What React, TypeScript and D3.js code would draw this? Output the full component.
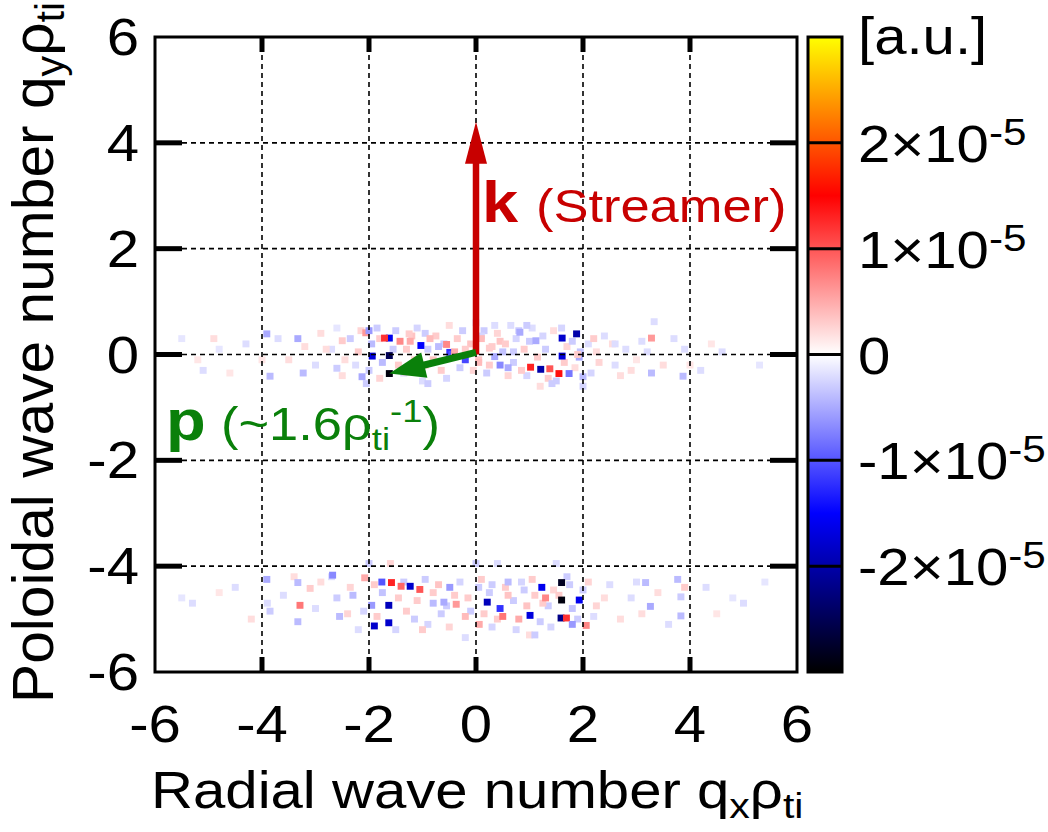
import React from "react";
import * as d3 from "d3";

// ---- data (values in units of 1e-5, positions in q rho_ti units) ----
const xTicks = [-6, -4, -2, 0, 2, 4, 6];
const yTicks = [-6, -4, -2, 0, 2, 4, 6];
const cbTicks = [-2, -1, 0, 1, 2];
const cbLabels = ["-2×10", "-1×10", "0", "1×10", "2×10"];

// upper band (around qy = 0): strong cells
const upperQx = [-1.62, -1.94, -1.62, -1.62, -1.71, -1.03, -1.42, -1.23, -0.86, -0.2, -0.49, -0.45, -0.55, -0.4, -2.13, -1.32, -2.06, -2.0, -1.25, -0.95, -0.7,
  1.61, 1.88, 1.61, 1.02, 1.21, 1.38, 1.55, 1.74, 0.82, 1.12, 0.45, 0.6, 0.35, 0.1, 0.55, 1.93, 2.0, 1.42, 0.25, 0.05, 0.7, 1.9, 2.2,
  3.28, 3.28, 3.87, 3.33, -3.91, -3.33, -3.85, -3.23, -2.6, -2.5, -4.9, -5.1, 2.6, 2.9, 4.6, -0.9, 0.95, -2.8];
const upperQy = [-0.02, -0.03, -0.36, 0.31, 0.31, 0.17, 0.25, 0.25, 0.3, -0.1, 0.04, 0.0, 0.19, 0.05, -0.42, -0.33, 0.41, 0.45, 0.39, -0.2, 0.15,
  0.31, 0.39, -0.03, -0.24, -0.28, -0.27, -0.36, -0.36, 0.42, 0.26, -0.2, -0.25, -0.04, 0.3, 0.2, -0.05, -0.42, -0.55, 0.12, -0.15, 0.05, 0.0, 0.3,
  0.31, -0.35, -0.41, 0.62, 0.39, 0.3, -0.41, -0.35, -0.26, 0.26, 0.3, -0.3, 0.2, -0.3, 0.05, -0.55, 0.55, 0.1];
const upperVal = [-2.5, -1.7, -2.9, -1.6, 1.2, -1.5, 0.7, 0.5, 0.4, -1.1, -1.2, -1.0, 0.7, 0.5, -0.5, 0.3, 0.6, -0.6, 0.3, 0.4, -0.4,
  -1.8, -2.0, -1.7, 1.3, -2.0, 1.0, 1.4, -0.8, -0.5, -0.5, -0.7, -0.5, -0.5, 0.4, 0.3, -0.5, -0.4, -0.3, 0.3, 0.4, -0.3, 0.3, 0.3,
  0.6, -0.4, -0.4, -0.2, -0.5, -0.5, -0.4, -0.4, -0.3, 0.3, 0.2, -0.2, -0.2, 0.2, -0.2, -0.3, -0.3, 0.2];

// upper band: faint cells
const faintUpperQx = [-2.9, -2.7, -2.5, -2.35, -2.2, -2.25, -1.85, -1.5, -1.3, -1.15, -1.1, -0.9, -0.75, -0.65, -0.35, -0.3, -0.1, -0.05, 0.15, 0.2,
  0.3, 0.4, 0.5, 0.7, 0.75, 0.9, 0.95, 1.05, 1.3, 1.45, 1.5, 1.7, 1.85, 2.1, 2.3, 2.4, 2.7, 2.8, 3.1, 3.5, 3.7, 4.2, 4.4, -3.5, -4.3, -4.6, -5.5, 5.3,
  -1.75, -1.45, -1.95, -2.05, 1.95, 2.0, 0.0, -0.5, 0.65, -1.0, 1.2,
  -2.6, -2.45, -2.15, -2.0, -1.8, -1.8, -1.55, -1.35, -1.2, -1.05, -0.95, -0.8, -0.6, -0.55, -0.25, -0.2, 0.05, 0.1, 0.25, 0.35, 0.45, 0.6,
  0.8, 0.85, 1.0, 1.15, 1.25, 1.35, 1.6, 1.65, 1.8, 2.15, 2.25, 2.55, 2.6, 3.0, 3.2, 3.9, 4.0, -3.0, -3.2, -3.7, -4.0, -4.8, -5.2];
const faintUpperQy = [0.4, 0.1, -0.4, 0.3, 0.05, -0.2, 0.5, 0.45, 0.1, -0.1, 0.5, 0.1, 0.35, -0.3, 0.3, -0.25, 0.2, -0.3, 0.45, -0.35,
  0.15, 0.4, 0.05, -0.15, 0.3, 0.1, -0.4, 0.5, 0.1, 0.45, -0.5, 0.15, -0.25, 0.2, -0.15, 0.35, -0.4, 0.1, 0.25, -0.2, 0.3, -0.3, 0.2, -0.1, 0.2, -0.35, 0.3, -0.2,
  -0.15, -0.2, 0.2, -0.55, 0.05, -0.6, 0.6, 0.55, 0.55, -0.5, -0.6,
  0.5, -0.1, 0.45, -0.3, 0.3, -0.45, 0.1, -0.35, 0.35, -0.25, 0.4, -0.1, 0.2, -0.45, 0.45, 0.1, -0.1, 0.35, -0.2, 0.55, 0.25, -0.4,
  0.45, -0.3, 0.25, -0.05, 0.35, -0.45, 0.5, -0.15, 0.25, -0.35, 0.05, 0.2, -0.2, -0.1, 0.05, 0.1, -0.2, -0.2, 0.15, 0.3, -0.1, 0.1, -0.1];
const faintUpperVal = [0.2, -0.2, 0.2, -0.3, 0.3, -0.2, -0.3, -0.3, 0.3, 0.25, -0.25, -0.3, 0.3, 0.3, 0.3, -0.3, 0.35, 0.25, -0.3, -0.3,
  0.3, 0.25, -0.35, -0.3, -0.25, 0.3, -0.25, -0.2, -0.3, 0.2, -0.3, 0.25, 0.2, -0.2, 0.25, -0.2, 0.2, -0.2, -0.2, 0.2, -0.2, -0.2, 0.15, 0.2, -0.2, 0.15, -0.15, -0.15,
  -0.4, 0.3, -0.4, -0.3, -0.35, -0.25, -0.2, 0.2, -0.2, -0.2, 0.2,
  -0.15, 0.2, 0.25, -0.3, 0.3, 0.25, -0.3, -0.25, 0.35, 0.3, -0.3, 0.35, -0.3, -0.25, -0.3, 0.3, 0.35, -0.25, 0.3, -0.2, 0.35, 0.25,
  -0.3, 0.3, -0.3, 0.3, -0.25, 0.3, -0.25, 0.3, -0.3, -0.25, 0.2, 0.2, -0.2, 0.15, -0.2, -0.2, 0.15, -0.2, 0.2, -0.2, 0.15, -0.15, 0.15];

// lower band (around qy = -4.5): strong cells
const lowerQx = [-1.76, -1.58, -1.4, -1.23, -1.05, -1.63, -1.95, -1.63, -1.9, -2.08, -2.3, -0.49, -0.6, -0.8, -0.37, -0.2, 0.06, 0.21, 0.45, 0.5, 0.8, 1.01, 1.23, 1.6, 1.6,
  1.93, 1.59, 1.69, 1.8, 2.06, 1.3, 0.6, 0.3, -3.91, -3.33, -2.68, -3.29, -3.33, -2.55, -3.1, -3.85, 3.17, 3.77, 3.83, 3.26, 3.83, 3.9, 5.0, -5.3, -1.0, 1.1, 0.0];
const lowerQy = [-4.3, -4.31, -4.38, -4.38, -4.44, -4.74, -4.74, -5.07, -5.13, -4.22, -4.55, -4.4, -4.68, -4.7, -4.72, -4.95, -5.1, -4.68, -4.8, -4.95, -5.0, -4.93, -4.4, -4.31, -4.64,
  -4.64, -4.98, -4.98, -5.1, -5.12, -4.6, -4.3, -4.35, -4.25, -4.31, -4.17, -4.74, -5.05, -4.95, -4.42, -4.85, -4.31, -4.25, -4.58, -4.76, -4.94, -4.4, -4.7, -4.7, -5.2, -5.3, -3.95];
const lowerVal = [-1.0, 1.3, 0.9, -1.8, 1.0, -1.9, -0.6, -1.8, -1.8, 0.5, -0.4, -0.6, -0.5, -0.4, 0.6, 0.4, 0.5, -1.9, -1.2, 0.8, 0.5, -1.7, -1.6, -2.8, -2.9,
  -1.6, -2.2, 1.2, -0.6, 0.7, 0.7, -0.4, -0.3, -0.5, -0.4, -0.7, 0.8, -0.4, -0.4, 0.3, -0.3, -0.4, -0.4, -0.3, -0.5, -0.4, 0.3, -0.2, -0.2, 0.3, -0.3, -0.3];

// lower band: faint cells
const faintLowerQx = [-2.9, -2.6, -2.4, -2.2, -1.75, -1.45, -1.3, -1.15, -0.95, -0.8, -0.65, -0.5, -0.3, -0.15, 0.05, 0.15, 0.3, 0.55, 0.7, 0.85, 0.95, 1.1, 1.2, 1.35,
  1.45, 1.75, 1.8, 2.0, 2.25, 2.5, 2.7, 2.9, 3.4, 3.6, 4.3, 4.5, -3.6, -4.2, -4.5, -5.5, 5.4, -2.0, -1.6, 0.4, 1.5, -0.2, 1.0,
  -2.7, -2.35, -2.1, -1.9, -1.85, -1.5, -1.35, -1.1, -0.9, -0.7, -0.55, -0.4, -0.1, 0.1, 0.25, 0.4, 0.6, 0.75, 0.9, 1.05, 1.25, 1.4, 1.55,
  1.7, 1.9, 2.1, 2.2, 2.4, 3.0, 3.1, -3.0, -3.4, -3.9, -4.8, 4.8];
const faintLowerQy = [-4.3, -4.6, -4.9, -5.2, -4.5, -4.6, -4.85, -5.0, -4.25, -4.5, -4.9, -5.15, -4.3, -4.6, -4.4, -4.9, -5.15, -4.4, -4.65, -4.3, -4.75, -4.55, -5.05, -4.75,
  -4.45, -4.35, -4.8, -4.45, -4.75, -4.35, -5.0, -4.6, -4.5, -5.1, -4.4, -4.9, -4.55, -5.0, -4.4, -4.6, -4.3, -3.95, -3.95, -3.95, -3.95, -5.35, -5.3,
  -4.2, -4.4, -4.85, -4.35, -4.95, -5.2, -4.3, -4.65, -5.1, -4.35, -4.75, -4.55, -4.85, -4.25, -4.5, -5.0, -4.55, -5.2, -4.45, -4.25, -4.7, -5.15, -4.55,
  -4.2, -5.0, -4.3, -4.95, -4.6, -4.3, -4.9, -4.8, -4.2, -4.7, -4.5, -4.6];
const faintLowerVal = [0.2, -0.3, 0.25, -0.2, -0.35, 0.3, 0.3, -0.3, -0.3, 0.3, -0.3, 0.25, -0.25, 0.3, -0.3, 0.3, -0.25, 0.3, -0.3, -0.25, 0.35, 0.3, -0.3, -0.3,
  0.25, -0.3, -0.35, -0.3, 0.25, -0.2, 0.2, -0.2, 0.2, -0.2, -0.2, 0.15, -0.2, 0.2, -0.2, -0.15, -0.15, -0.3, 0.25, -0.2, -0.2, -0.2, 0.2,
  -0.2, 0.25, -0.25, 0.3, 0.3, -0.25, -0.3, 0.3, -0.25, 0.35, -0.3, 0.3, -0.3, 0.3, -0.3, 0.3, 0.35, -0.25, -0.3, 0.3, 0.3, -0.25, 0.3,
  -0.3, -0.3, 0.25, -0.2, 0.2, -0.2, 0.2, -0.2, 0.2, -0.2, 0.15, -0.15];

const CELL = 0.13;

const W = 1048, H = 832;
const FONT = "'Liberation Sans', Arial, sans-serif";
const SX = 1.14; // horizontal stretch of the reference's lettering

function T(props: any) {
  const { x, y, sx = SX, children, ...rest } = props;
  return (
    <text transform={`translate(${x},${y}) scale(${sx},1)`} {...rest}>
      {children}
    </text>
  );
}

export default function App() {
  const x = d3.scaleLinear().domain([-6, 6]).range([155, 797]);
  const y = d3.scaleLinear().domain([-6, 6]).range([672, 37]);
  const cb = d3.scaleLinear().domain([-3, 3]).range([672, 37]);
  const color = d3
    .scaleLinear<string>()
    .domain([-3, -1.5, 0, 1.5, 3])
    .range(["#000000", "#0000ff", "#ffffff", "#ff0000", "#ffff00"])
    .clamp(true);

  const mk = (qx: number[], qy: number[], v: number[]) => qx.map((q, i) => ({ qx: q, qy: qy[i], v: v[i] }));
  const cells = [
    ...mk(faintUpperQx, faintUpperQy, faintUpperVal),
    ...mk(faintLowerQx, faintLowerQy, faintLowerVal),
    ...mk(upperQx, upperQy, upperVal),
    ...mk(lowerQx, lowerQy, lowerVal),
  ];
  const cw = x(CELL) - x(0);
  const ch = y(0) - y(CELL);

  const gradStops = d3.range(0, 61).map((i) => {
    const v = -3 + i * 0.1;
    return { off: (i / 60) * 100, c: color(v) };
  });

  const red = "#c80000";
  const green = "#0a800a";

  const x0 = x(0), y0 = y(0);
  const kTip = y(4.4);
  const pTipX = x(-1.62), pTipY = y(-0.36);
  const pStartX = x(0), pStartY = y(0.04);
  const ang = Math.atan2(pTipY - pStartY, pTipX - pStartX);
  const headL = 36, headW = 13;
  const baseX = pTipX - headL * Math.cos(ang), baseY = pTipY - headL * Math.sin(ang);
  const nx = -Math.sin(ang), ny = Math.cos(ang);

  return (
    <svg width={W} height={H} style={{ display: "block", position: "absolute", left: 0, top: 0, background: "#fff" }} fontFamily={FONT}>
      <defs>
        <linearGradient id="cbg" x1="0" y1="1" x2="0" y2="0">
          {gradStops.map((s, i) => (
            <stop key={i} offset={`${s.off}%`} stopColor={s.c} />
          ))}
        </linearGradient>
        <clipPath id="plotclip">
          <rect x={x(-6)} y={y(6)} width={x(6) - x(-6)} height={y(-6) - y(6)} />
        </clipPath>
        <filter id="soft" x="-5%" y="-5%" width="110%" height="110%">
          <feGaussianBlur stdDeviation="0.7" />
        </filter>
      </defs>
      <rect x={0} y={0} width={W} height={H} fill="#fff" />

      {/* heatmap cells */}
      <g clipPath="url(#plotclip)">
        <g filter="url(#soft)">
          {cells.map((c, i) => (
            <rect key={i} x={x(c.qx) - cw / 2} y={y(c.qy) - ch / 2} width={cw} height={ch} fill={color(c.v)} />
          ))}
        </g>
      </g>

      {/* grid */}
      {xTicks.slice(1, -1).map((t) => (
        <line key={"gx" + t} x1={x(t)} x2={x(t)} y1={y(-6)} y2={y(6)} stroke="#000" strokeWidth={1.6} strokeDasharray="5,4" />
      ))}
      {yTicks.slice(1, -1).map((t) => (
        <line key={"gy" + t} y1={y(t)} y2={y(t)} x1={x(-6)} x2={x(6)} stroke="#000" strokeWidth={1.6} strokeDasharray="5,4" />
      ))}

      {/* ticks */}
      {xTicks.slice(1, -1).map((t) => (
        <g key={"tx" + t}>
          <line x1={x(t)} x2={x(t)} y1={y(-6)} y2={y(-6) - 15} stroke="#000" strokeWidth={5} />
          <line x1={x(t)} x2={x(t)} y1={y(6)} y2={y(6) + 15} stroke="#000" strokeWidth={5} />
        </g>
      ))}
      {yTicks.slice(1, -1).map((t) => (
        <g key={"ty" + t}>
          <line y1={y(t)} y2={y(t)} x1={x(-6)} x2={x(-6) + 27} stroke="#000" strokeWidth={5} />
          <line y1={y(t)} y2={y(t)} x1={x(6)} x2={x(6) - 27} stroke="#000" strokeWidth={5} />
        </g>
      ))}
      <rect x={x(-6)} y={y(6)} width={x(6) - x(-6)} height={y(-6) - y(6)} fill="none" stroke="#000" strokeWidth={3} />

      {/* tick labels */}
      {xTicks.map((t) => (
        <T key={"lx" + t} x={x(t)} y={742} textAnchor="middle" fontSize={51}>
          {t}
        </T>
      ))}
      {yTicks.map((t) => (
        <T key={"ly" + t} x={139} y={y(t) + 18} textAnchor="end" fontSize={51}>
          {t}
        </T>
      ))}

      {/* axis labels */}
      <T x={151} y={808} fontSize={51}>
        Radial wave number q<tspan fontSize={36} dy={10}>x</tspan>
        <tspan dy={-10}>ρ</tspan>
        <tspan fontSize={36} dy={10}>ti</tspan>
      </T>
      <text transform={`translate(53, 703) rotate(-90) scale(1.03,1)`} fontSize={57}>
        Poloidal wave number q<tspan fontSize={40} dy={11}>y</tspan>
        <tspan dy={-11}>ρ</tspan>
        <tspan fontSize={40} dy={11}>ti</tspan>
      </text>

      {/* colorbar */}
      <rect x={808} y={cb(3)} width={34} height={cb(-3) - cb(3)} fill="url(#cbg)" />
      {cbTicks.map((t) => (
        <line key={"cbt" + t} x1={808} x2={842} y1={cb(t)} y2={cb(t)} stroke="#000" strokeWidth={3} />
      ))}
      <rect x={808} y={cb(3)} width={34} height={cb(-3) - cb(3)} fill="none" stroke="#000" strokeWidth={3} />
      {cbTicks.map((t, i) => (
        <T key={"cbl" + t} x={858} y={cb(t) + 19} fontSize={51}>
          {cbLabels[i]}
          {t !== 0 && (
            <tspan fontSize={37} dy={-17}>
              -5
            </tspan>
          )}
        </T>
      ))}
      <T x={858} y={54} fontSize={51}>
        [a.u.]
      </T>

      {/* k arrow */}
      <line x1={x0} y1={y0} x2={x0} y2={kTip + 40} stroke={red} strokeWidth={6.5} />
      <polygon points={`${x0},${kTip} ${x0 - 11},${kTip + 42} ${x0 + 11},${kTip + 42}`} fill={red} />
      <T x={482} y={222} fontSize={57} fontWeight="bold" fill={red}>
        k
      </T>
      <T x={536} y={222} fontSize={46} fill={red}>
        (Streamer)
      </T>

      {/* p arrow */}
      <line x1={pStartX} y1={pStartY} x2={baseX + 2 * Math.cos(ang)} y2={baseY + 2 * Math.sin(ang)} stroke={green} strokeWidth={7} />
      <polygon
        points={`${pTipX},${pTipY} ${baseX + nx * headW},${baseY + ny * headW} ${baseX - nx * headW},${baseY - ny * headW}`}
        fill={green}
      />
      <T x={166} y={440} fontSize={57} fontWeight="bold" fill={green}>
        p
      </T>
      <T x={221} y={440} fontSize={46} fill={green}>
        (~1.6ρ<tspan fontSize={32} dy={10}>ti</tspan>
        <tspan fontSize={32} dy={-28}>-1</tspan>
        <tspan dy={18}>)</tspan>
      </T>
    </svg>
  );
}
